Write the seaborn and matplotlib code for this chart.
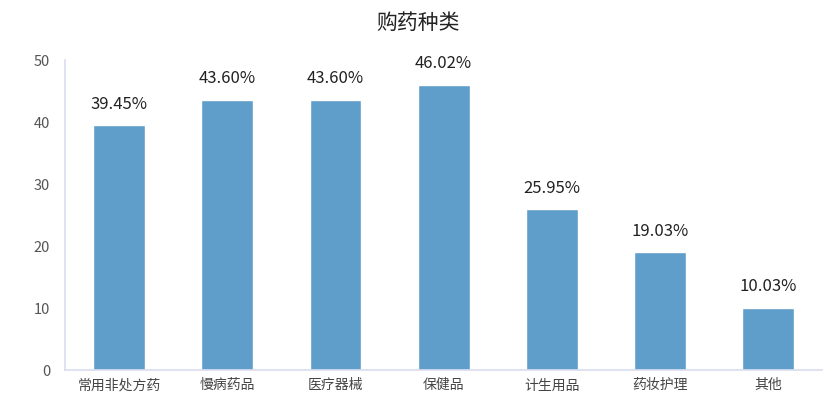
import numpy as np
import pandas as pd
import matplotlib
matplotlib.use("Agg")
import matplotlib.pyplot as plt
import seaborn as sns

categories = ['常用非处方药', '慢病药品', '医疗器械', '保健品', '计生用品', '药妆护理', '其他']
values = [39.45, 43.60, 43.60, 46.02, 25.95, 19.03, 10.03]
labels = ['39.45%', '43.60%', '43.60%', '46.02%', '25.95%', '19.03%', '10.03%']

sns.set_style("white")
plt.rcParams['font.family'] = ['Noto Sans CJK SC', 'DejaVu Sans']

df = pd.DataFrame({'cat': categories, 'val': values})

fig = plt.figure(figsize=(8.37, 4.2), dpi=100)
ax = fig.add_axes([0.078, 0.119, 0.904, 0.738])
sns.barplot(data=df, x='cat', y='val', color='#5F9DCA', saturation=1, width=0.48, ax=ax)

for i, (v, lab) in enumerate(zip(values, labels)):
    ax.text(i, v + 2.0, lab, ha='center', va='bottom', fontsize=12, color='#222222')

ax.set_ylim(0, 50)
ax.set_xlim(-0.5, 6.5)
ax.set_yticks(range(0, 51, 10))
ax.set_xlabel('')
ax.set_ylabel('')
for s in ['top', 'right']:
    ax.spines[s].set_visible(False)
for s in ['left', 'bottom']:
    ax.spines[s].set_color('#D9DDEE')
    ax.spines[s].set_linewidth(1.2)
ax.tick_params(axis='y', length=5, color='#D9DDEE', labelsize=10.5, labelcolor='#555555', pad=6)
ax.tick_params(axis='x', length=0, labelsize=10, labelcolor='#444444', pad=6)

fig.text(0.5, 0.945, '购药种类', ha='center', va='center', fontsize=15, color='#222222')

fig.savefig('out.png', dpi=100)
